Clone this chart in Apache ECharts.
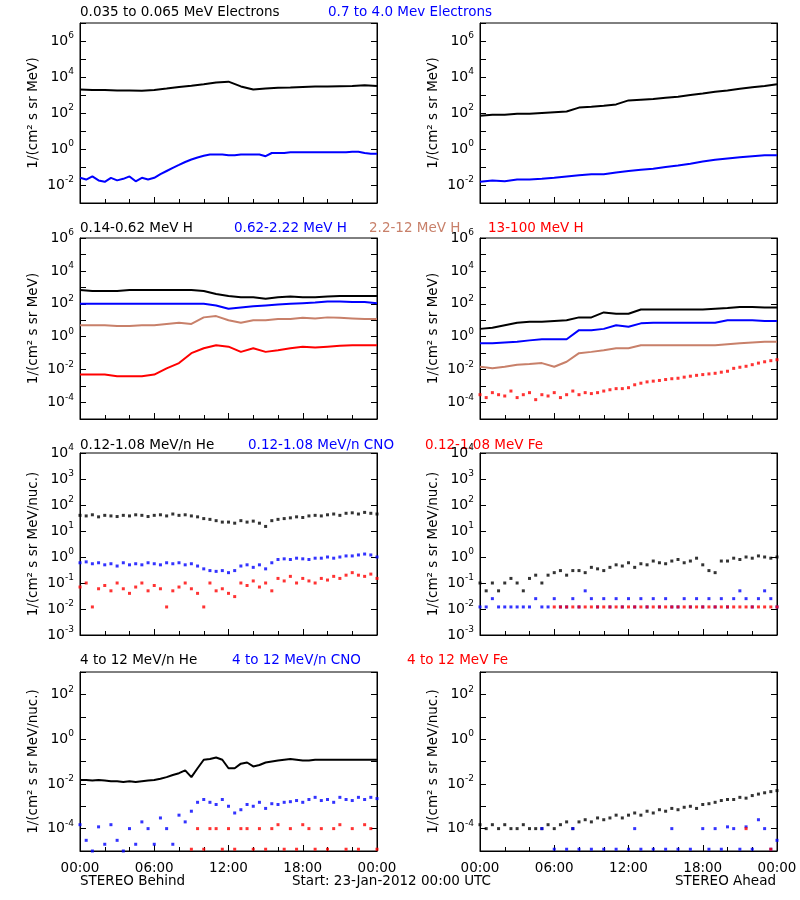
<!DOCTYPE html>
<html><head><meta charset="utf-8">
<script src="https://cdn.jsdelivr.net/npm/echarts@6/dist/echarts.min.js"></script>
<style>html,body{margin:0;padding:0;background:#fff}#c{width:800px;height:900px}</style>
</head><body><div id="c"></div>
<script>
// time axes (hours since start)
const H = [0,1,2,3,4,5,6,7,8,9,10,11,12,13,14,15,16,17,18,19,20,21,22,23,24];
const HH = [0,0.5,1,1.5,2,2.5,3,3.5,4,4.5,5,5.5,6,6.5,7,7.5,8,8.5,9,9.5,10,10.5,11,11.5,12,12.5,13,13.5,14,14.5,15,15.5,16,16.5,17,17.5,18,18.5,19,19.5,20,20.5,21,21.5,22,22.5,23,23.5,24];
const xTickLabels = ['00:00','06:00','12:00','18:00','00:00'];

// Row 1: electrons
const behindElecLow = [2e3,1.9e3,1.9e3,1.8e3,1.8e3,1.7e3,1.9e3,2.3e3,2.8e3,3.3e3,4e3,5e3,5.5e3,3e3,2e3,2.3e3,2.5e3,2.6e3,2.8e3,3e3,3e3,3.1e3,3.2e3,3.5e3,3.2e3];
const behindElecHigh = [2.5e-2,2e-2,3e-2,1.8e-2,1.5e-2,2.5e-2,1.8e-2,2.2e-2,3e-2,1.6e-2,2.5e-2,2e-2,2.5e-2,4e-2,6e-2,9e-2,1.3e-1,1.9e-1,2.6e-1,3.4e-1,4.2e-1,5e-1,5e-1,5e-1,4.5e-1,4.5e-1,5e-1,5e-1,5e-1,5e-1,4e-1,6e-1,6e-1,6e-1,6.5e-1,6.5e-1,6.5e-1,6.5e-1,6.5e-1,6.5e-1,6.5e-1,6.5e-1,6.5e-1,6.5e-1,7e-1,7e-1,6e-1,5.5e-1,5.5e-1];
const aheadElecLow = [7e1,8e1,8e1,9e1,9e1,1e2,1.1e2,1.2e2,2e2,2.2e2,2.5e2,3e2,5e2,5.5e2,6e2,7e2,8e2,1e3,1.2e3,1.5e3,1.8e3,2.2e3,2.7e3,3.2e3,4e3];
const aheadElecHigh = [1.5e-2,1.8e-2,1.6e-2,2e-2,2e-2,2.2e-2,2.5e-2,3e-2,3.5e-2,4e-2,4e-2,5e-2,6e-2,7e-2,8e-2,1e-1,1.2e-1,1.5e-1,2e-1,2.5e-1,3e-1,3.5e-1,4e-1,4.5e-1,4.5e-1];

// Row 2: protons
const behindH1 = [7e2,6e2,6e2,6e2,7e2,7e2,7e2,7e2,7e2,7e2,6e2,4e2,3e2,2.5e2,2.5e2,2e2,2.5e2,2.8e2,2.5e2,2.5e2,2.8e2,3e2,3e2,3e2,3e2];
const behindH2 = [1e2,1e2,1e2,1e2,1e2,1e2,1e2,1e2,1e2,1e2,1e2,8e1,5e1,6e1,7e1,8e1,9e1,1e2,1.1e2,1.2e2,1.4e2,1.4e2,1.3e2,1.3e2,1.1e2];
const behindH3 = [5,5,5,4.5,4.5,5,5,6,7,6,15,18,10,7,10,10,12,12,14,13,15,14,13,12,12];
const behindH4 = [5e-3,5e-3,5e-3,4e-3,4e-3,4e-3,5e-3,1.2e-2,2.5e-2,1e-1,2e-1,3e-1,2.5e-1,1.2e-1,2e-1,1.2e-1,1.5e-1,2e-1,2.5e-1,2.2e-1,2.5e-1,2.8e-1,3e-1,3e-1,3e-1];
const aheadH1 = [3,3.5,5,7,8,8,9,10,15,15,30,25,25,45,45,45,45,45,45,50,55,65,65,60,60];
const aheadH2 = [0.4,0.4,0.45,0.5,0.6,0.7,0.7,0.7,2.5,2.5,3,5,4,6.5,7,7,7,7,7,7,10,10,10,9,9];
const aheadH3 = [0.015,0.012,0.015,0.02,0.022,0.025,0.015,0.03,0.1,0.12,0.15,0.2,0.2,0.3,0.3,0.3,0.3,0.3,0.3,0.3,0.35,0.4,0.45,0.5,0.5];
const aheadH4 = [3e-4,2e-4,4e-4,3e-4,2.5e-4,5e-4,2e-4,3e-4,4e-4,1.5e-4,3e-4,2.5e-4,4e-4,2e-4,3e-4,5e-4,3e-4,4e-4,3.5e-4,4e-4,5e-4,6e-4,7e-4,7e-4,8e-4,1.2e-3,1.5e-3,1.8e-3,2e-3,2.2e-3,2.5e-3,2.8e-3,3e-3,3.5e-3,4e-3,4.5e-3,5e-3,5.5e-3,6e-3,7e-3,8e-3,1.2e-2,1.4e-2,1.6e-2,2e-2,2.5e-2,3e-2,3.5e-2,4e-2];

// Row 3: low energy ions
const behindHeLow = [40,38,42,35,40,38,36,40,38,42,40,36,40,42,38,45,40,42,38,35,30,28,25,22,22,20,25,22,24,20,15,25,28,30,32,35,33,38,40,38,42,45,40,48,50,45,52,48,45];
const behindCNOLow = [0.6,0.65,0.55,0.6,0.5,0.55,0.45,0.6,0.5,0.55,0.5,0.6,0.55,0.5,0.6,0.55,0.6,0.5,0.55,0.45,0.35,0.3,0.28,0.3,0.25,0.3,0.45,0.5,0.4,0.5,0.35,0.6,0.8,0.85,0.8,0.9,0.85,0.8,0.9,0.9,1.0,0.9,1.0,1.1,1.1,1.2,1.3,1.2,1.0];
const behindFeLow = [0.07,0.1,0.012,0.06,0.08,0.05,0.1,0.06,0.04,0.07,0.1,0.05,0.08,0.06,0.012,0.05,0.07,0.1,0.06,0.04,0.012,0.1,0.05,0.06,0.04,0.03,0.1,0.08,0.12,0.07,0.1,0.05,0.15,0.12,0.18,0.1,0.15,0.12,0.1,0.15,0.13,0.18,0.15,0.2,0.25,0.2,0.18,0.22,0.15];
const aheadHeLow = [0.1,0.05,0.1,0.05,0.1,0.15,0.1,0.05,0.15,0.2,0.1,0.2,0.25,0.3,0.2,0.3,0.3,0.25,0.4,0.35,0.3,0.4,0.5,0.45,0.6,0.4,0.55,0.5,0.7,0.6,0.55,0.7,0.8,0.6,0.7,0.9,0.5,0.3,0.25,0.7,0.7,0.9,0.8,1.0,0.9,1.1,1.0,0.9,1.0];
const aheadCNOLow = [0.012,0.012,0.025,0.012,0.012,0.012,0.012,0.012,0.012,0.025,0.012,0.012,0.025,0.012,0.012,0.025,0.012,0.05,0.025,0.012,0.025,0.012,0.025,0.012,0.025,0.012,0.025,0.012,0.025,0.012,0.025,0.012,0.012,0.025,0.012,0.025,0.012,0.025,0.012,0.025,0.012,0.025,0.05,0.025,0.012,0.025,0.05,0.025,0.012];
const aheadFeLow = [null,null,null,null,null,null,null,null,null,null,null,null,0.012,0.012,0.012,0.012,0.012,0.012,0.012,0.012,0.012,0.012,0.012,0.012,0.012,0.012,0.012,0.012,0.012,0.012,0.012,0.012,0.012,0.012,0.012,0.012,0.012,0.012,0.012,0.012,0.012,0.012,0.012,0.012,0.012,0.012,0.012,0.012,0.012];

// Row 4: high energy ions
const behindHeHigh = [1.5e-2,1.5e-2,1.4e-2,1.5e-2,1.4e-2,1.3e-2,1.3e-2,1.2e-2,1.3e-2,1.2e-2,1.3e-2,1.4e-2,1.5e-2,1.7e-2,2e-2,2.5e-2,3e-2,4e-2,2e-2,5e-2,1.2e-1,1.3e-1,1.5e-1,1.2e-1,5e-2,5e-2,8e-2,9e-2,6e-2,7e-2,9e-2,1e-1,1.1e-1,1.2e-1,1.3e-1,1.2e-1,1.1e-1,1.1e-1,1.2e-1,1.2e-1,1.2e-1,1.2e-1,1.2e-1,1.2e-1,1.2e-1,1.2e-1,1.2e-1,1.2e-1,1.2e-1];
const behindCNOHigh = [1.5e-4,3e-5,1e-5,1.2e-4,2e-5,1.5e-4,3e-5,1e-5,1e-4,2e-5,2e-4,1e-4,2e-5,3e-4,1e-4,2e-5,4e-4,2e-4,6e-4,1.5e-3,2e-3,1.5e-3,1.2e-3,2e-3,1e-3,5e-4,7e-4,1.2e-3,1e-3,1.5e-3,8e-4,1.3e-3,1.2e-3,1.5e-3,1.6e-3,1.8e-3,1.5e-3,2e-3,2.5e-3,1.8e-3,2e-3,1.5e-3,2.5e-3,2e-3,1.8e-3,2.5e-3,2e-3,2.5e-3,2.2e-3];
const behindFeHigh = [null,null,null,null,null,null,null,null,null,null,null,null,null,null,null,null,null,null,1.2e-5,1e-4,1.2e-5,1e-4,1e-4,1.2e-5,1e-4,1.2e-5,1e-4,1e-4,1.2e-5,1e-4,1.2e-5,1e-4,1.5e-4,1.2e-5,1e-4,1.2e-5,1.5e-4,1e-4,1.2e-5,1e-4,1.2e-5,1e-4,1.5e-4,1.2e-5,1e-4,1.2e-5,1.5e-4,1e-4,1.2e-5];
const aheadHeHigh = [1.5e-4,1e-4,1.5e-4,1e-4,1.5e-4,1e-4,1e-4,1.5e-4,1e-4,1e-4,1e-4,1.5e-4,1e-4,1.5e-4,2e-4,1e-4,2e-4,2.5e-4,2e-4,3e-4,2.5e-4,3e-4,4e-4,3e-4,4e-4,5e-4,4e-4,6e-4,5e-4,7e-4,6e-4,8e-4,7e-4,9e-4,1e-3,8e-4,1.2e-3,1.3e-3,1.5e-3,1.8e-3,2e-3,2e-3,2.5e-3,2.3e-3,3e-3,3.5e-3,4e-3,4.5e-3,5e-3];
const aheadCNOHigh = [null,null,null,null,null,null,null,null,null,null,1e-4,null,1.2e-5,null,1.2e-5,1e-4,1.2e-5,null,1.2e-5,null,1.2e-5,null,1.2e-5,null,1.2e-5,1e-4,1.2e-5,null,1.2e-5,null,1.2e-5,1e-4,1.2e-5,null,1.2e-5,null,1e-4,1.2e-5,1e-4,1.2e-5,1.2e-4,1e-4,1.2e-5,1.2e-4,1.2e-5,2.5e-4,1e-4,1.2e-5,3e-5];
const aheadFeHigh = [null,null,null,null,null,null,null,null,null,null,null,null,null,null,null,null,null,null,null,null,null,null,null,null,null,null,null,null,null,null,null,null,null,null,null,null,null,null,null,null,null,null,null,1e-4,null,null,null,1.2e-5,null];

const BLACK='#000000', BLUE='#0000ff', BROWN='#c8806a', RED='#ff0000';
const FONT='DejaVu Sans';

const rows = [
  {top:23,h:180,min:1e-3,max:1e7,show:[-2,0,2,4,6],name:'1/(cm² s sr MeV)'},
  {top:238,h:181,min:1e-5,max:1e6,show:[-4,-2,0,2,4,6],name:'1/(cm² s sr MeV)'},
  {top:453,h:182,min:1e-3,max:1e4,show:[-3,-2,-1,0,1,2,3,4],name:'1/(cm² s sr MeV/nuc.)'},
  {top:672,h:179,min:1e-5,max:1e3,show:[-4,-2,0,2],name:'1/(cm² s sr MeV/nuc.)'}
];
const lefts=[80,480];

const grid=[],xAxis=[],yAxis=[],series=[];
rows.forEach((r,ri)=>{
  lefts.forEach((l,ci)=>{
    const gi=ri*2+ci;
    grid.push({left:l,top:r.top,width:297,height:r.h,show:true,borderColor:'#000',borderWidth:1,backgroundColor:'transparent'});
    xAxis.push({type:'value',gridIndex:gi,min:0,max:24,interval:6,
      axisLine:{show:true,lineStyle:{color:'#000'}},
      axisTick:{show:true,inside:true,length:6,lineStyle:{color:'#000'}},
      minorTick:{show:true,splitNumber:3,length:4,lineStyle:{color:'#000'}},
      splitLine:{show:false},
      axisLabel:{show:ri===3,color:'#000',fontFamily:FONT,fontSize:13.5,margin:10,
        formatter:v=>xTickLabels[Math.round(v/6)]}});
    const fmt=v=>{const e=Math.round(Math.log10(v));
      if(Math.abs(Math.log10(v)-e)>1e-6||r.show.indexOf(e)<0) return '';
      return '{b|10}{s|'+e+'}';};
    const base={type:'log',logBase:10,gridIndex:gi,min:r.min,max:r.max,interval:1,
      splitLine:{show:false},axisLine:{show:true,lineStyle:{color:'#000'}}};
    yAxis.push(Object.assign({},base,{position:'left',
      name:r.name,nameLocation:'middle',nameGap:40,
      nameTextStyle:{color:'#000',fontFamily:FONT,fontSize:13.5},
      axisTick:{show:true,inside:true,length:6,lineStyle:{color:'#000'}},
      axisLabel:{color:'#000',fontFamily:FONT,margin:6,formatter:fmt,
        rich:{b:{fontSize:14,fontFamily:FONT,color:'#000'},s:{fontSize:9,fontFamily:FONT,color:'#000',padding:[0,0,10,0]}}}}));
    yAxis.push(Object.assign({},base,{position:'right',
      axisTick:{show:true,inside:true,length:6,lineStyle:{color:'#000'}},
      axisLabel:{show:false}}));
  });
});

function pair(t,v){const o=[];v.forEach((y,i)=>{if(y!==null&&y!==undefined)o.push([t[i],y]);});return o;}
function line(gi,t,v,c,w){series.push({type:'line',xAxisIndex:gi,yAxisIndex:gi*2,data:pair(t,v),
  showSymbol:false,symbol:'none',lineStyle:{color:c,width:w||2},silent:true,animation:false});}
function dots(gi,t,v,c,s){series.push({type:'scatter',xAxisIndex:gi,yAxisIndex:gi*2,data:pair(t,v),
  symbol:'rect',symbolSize:s||3,itemStyle:{color:c},silent:true,animation:false});}

line(0,H,behindElecLow,BLACK); line(0,HH,behindElecHigh,BLUE);
line(1,H,aheadElecLow,BLACK); line(1,H,aheadElecHigh,BLUE);
line(2,H,behindH1,BLACK); line(2,H,behindH2,BLUE); line(2,H,behindH3,BROWN); line(2,H,behindH4,RED);
line(3,H,aheadH1,BLACK); line(3,H,aheadH2,BLUE); line(3,H,aheadH3,BROWN); dots(3,HH,aheadH4,RED,3);
dots(4,HH,behindHeLow,BLACK); dots(4,HH,behindCNOLow,BLUE); dots(4,HH,behindFeLow,RED);
dots(5,HH,aheadHeLow,BLACK); dots(5,HH,aheadCNOLow,BLUE); dots(5,HH,aheadFeLow,RED);
line(6,HH,behindHeHigh,BLACK); dots(6,HH,behindCNOHigh,BLUE); dots(6,HH,behindFeHigh,RED);
dots(7,HH,aheadHeHigh,BLACK); dots(7,HH,aheadCNOHigh,BLUE); dots(7,HH,aheadFeHigh,RED);

const F='13.5px "DejaVu Sans"';
const titles=[
  [80,13,'0.035 to 0.065 MeV Electrons',BLACK],[328,13,'0.7 to 4.0 Mev Electrons',BLUE],
  [80,229,'0.14-0.62 MeV H',BLACK],[234,229,'0.62-2.22 MeV H',BLUE],[369,229,'2.2-12 MeV H',BROWN],[488,229,'13-100 MeV H',RED],
  [80,446,'0.12-1.08 MeV/n He',BLACK],[248,446,'0.12-1.08 MeV/n CNO',BLUE],[425,446,'0.12-1.08 MeV Fe',RED],
  [80,661,'4 to 12 MeV/n He',BLACK],[232,661,'4 to 12 MeV/n CNO',BLUE],[407,661,'4 to 12 MeV Fe',RED]
];
const graphic=titles.map(t=>({type:'text',left:t[0],top:t[1]-8,style:{text:t[2],fill:t[3],font:F}}));
graphic.push({type:'text',left:80,top:874,style:{text:'STEREO Behind',fill:'#000',font:F}});
graphic.push({type:'text',left:292,top:874,style:{text:'Start: 23-Jan-2012 00:00 UTC',fill:'#000',font:F}});
graphic.push({type:'text',right:24,top:874,style:{text:'STEREO Ahead',fill:'#000',font:F}});

const chart=echarts.init(document.getElementById('c'));
chart.setOption({animation:false,backgroundColor:'#fff',grid,xAxis,yAxis,series,graphic});
</script></body></html>
